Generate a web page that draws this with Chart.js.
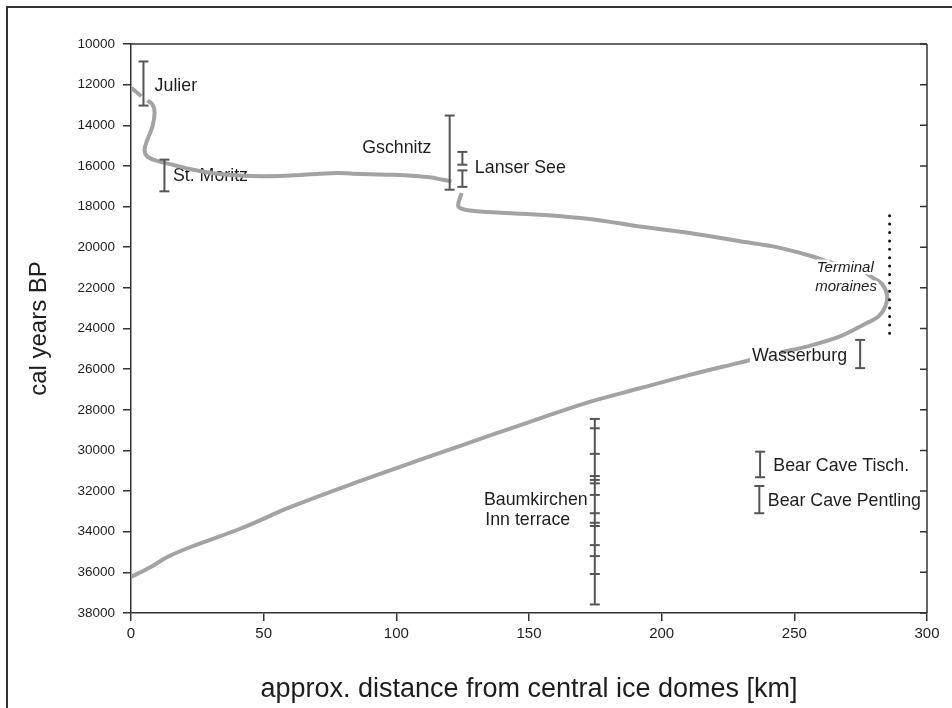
<!DOCTYPE html>
<html>
<head>
<meta charset="utf-8">
<title>Glacier advance and retreat</title>
<script src="https://cdn.jsdelivr.net/npm/chart.js@4.4.1/dist/chart.umd.min.js"></script>
<style>
    html, body { margin: 0; padding: 0; background: #fff; overflow: hidden; }
    #wrap { position: relative; width: 952px; height: 708px; }
    #frame { position: absolute; left: 6px; top: 6px; width: 960px; height: 720px;
             border-left: 2px solid #333; border-top: 2px solid #333; }
    #chart { position: absolute; left: 0; top: 0; }
</style>
</head>
<body>
<div id="wrap">
    <div id="frame"></div>
    <canvas id="chart" width="952" height="708"></canvas>
</div>
<script>
// ice front curve (km from ice domes, cal years BP)
const frontAKm  = [0.1, 3.9];
const frontAAge = [12160, 12570];

const frontBKm  = [6.2, 8.1, 8.9, 8.1, 6.2, 5.1, 6.2, 10.8, 15.7, 22.0, 33.4, 45.8, 58.5, 71.1, 77.5, 83.6, 96.4, 106.2, 112.6, 117.5, 120.8];
const frontBAge = [12780, 12980, 13370, 14060, 14700, 15200, 15540, 15790, 15940, 16150, 16400, 16500, 16480, 16390, 16350, 16380, 16430, 16480, 16560, 16680, 16760];

const frontCKm  = [124.6, 123.3, 125.2, 131.5, 154.1, 172.9, 191.8, 210.6, 229.5, 242.0, 254.7, 264.7, 268.4, 274.8, 279.8, 283.0, 284.9, 284.3, 281.7, 277.3, 267.2, 254.7, 244.6, 233.9, 229.5, 210.6, 191.8, 172.9, 156.0, 135.9, 110.7, 85.6, 60.4, 41.6, 22.7, 13.9, 7.6, 0.1];
const frontCAge = [17330, 17960, 18130, 18240, 18400, 18610, 18980, 19300, 19710, 19960, 20370, 20780, 20860, 21110, 21520, 21800, 22340, 22920, 23410, 23730, 24390, 24890, 25180, 25540, 25680, 26280, 26940, 27610, 28340, 29240, 30380, 31540, 32770, 33830, 34740, 35230, 35720, 36220];

// dated sites (age ranges)
const siteKm   = [4.7, 12.6, 120.1, 124.9, 124.9, 274.8, 237.1, 236.8];
const siteFrom = [10860, 15690, 13520, 15310, 16220, 24560, 30060, 31750];
const siteTo   = [13030, 17250, 17170, 15940, 17030, 25950, 31320, 33090];

// Baumkirchen / Inn terrace dates
const baumKm = 174.8;
const baumAges = [28450, 28910, 30170, 31260, 31450, 31620, 32190, 33090, 33560, 33720, 34660, 35200, 36080, 37580];

// terminal moraines
const moraineKm = 285.9;
const moraineAges = [18450, 24310];

const xTicks = [0, 50, 100, 150, 200, 250, 300];
const yTicks = [10000, 12000, 14000, 16000, 18000, 20000, 22000, 24000, 26000, 28000, 30000, 32000, 34000, 36000, 38000];

const labelTexts = ['Julier', 'St. Moritz', 'Gschnitz', 'Lanser See', 'Terminal', 'moraines', 'Wasserburg',
                    'Baumkirchen', 'Inn terrace', 'Bear Cave Tisch.', 'Bear Cave Pentling'];

// where each label sits (data units) and how it is drawn
const labelSpots = [
    { x: 8.9,   y: 12090, align: 'left' },
    { x: 15.8,  y: 16510, align: 'left', under: true },
    { x: 113.2, y: 15110, align: 'right' },
    { x: 129.6, y: 16100, align: 'left' },
    { x: 269.2, y: 21025, align: 'center', italic: true, halo: true },
    { x: 269.5, y: 21930, align: 'center', italic: true, halo: true },
    { x: 234.0, y: 25380, align: 'left', box: 29 },
    { x: 133.0, y: 32440, align: 'left' },
    { x: 133.5, y: 33420, align: 'left' },
    { x: 242.1, y: 30750, align: 'left' },
    { x: 240.0, y: 32490, align: 'left' }
];

const AXIS = '#333';
const TEXT = '#1e1e1e';
const BAR = '#555';
const CURVE = '#a3a3a3';

function pairs(xs, ys) {
    return xs.map((x, i) => ({ x: x, y: ys[i] }));
}

function curveSet(xs, ys) {
    return {
        data: pairs(xs, ys),
        showLine: true,
        borderColor: CURVE,
        borderWidth: 4,
        pointRadius: 0,
        tension: 0.35,
        order: 2
    };
}

function barSet(x, ages) {
    return {
        data: ages.map(a => ({ x: x, y: a })),
        showLine: true,
        borderColor: BAR,
        borderWidth: 2,
        pointStyle: 'line',
        pointRadius: 5,
        pointBorderWidth: 2,
        pointBorderColor: BAR,
        tension: 0,
        order: 1
    };
}

const datasets = [
    curveSet(frontAKm, frontAAge),
    curveSet(frontBKm, frontBAge),
    curveSet(frontCKm, frontCAge)
];
siteKm.forEach((km, i) => datasets.push(barSet(km, [siteFrom[i], siteTo[i]])));
datasets.push(barSet(baumKm, baumAges));
datasets.push({
    data: moraineAges.map(a => ({ x: moraineKm, y: a })),
    showLine: true,
    borderColor: '#111',
    borderWidth: 3,
    borderDash: [0, 8.4],
    borderCapStyle: 'round',
    pointRadius: 0,
    order: 1
});

function drawLabels(chart, under) {
    const ctx = chart.ctx;
    const xs = chart.scales.x, ys = chart.scales.y;
    ctx.save();
    ctx.textBaseline = 'middle';
    labelTexts.forEach((txt, i) => {
        const s = labelSpots[i];
        if (!!s.under !== under) return;
        const px = xs.getPixelForValue(s.x);
        const py = ys.getPixelForValue(s.y);
        ctx.font = (s.italic ? 'italic 15px' : '17.8px') + ' "Liberation Sans", Arial, sans-serif';
        ctx.textAlign = s.align;
        if (s.box) {
            // white patch where the text covers the curve
            ctx.fillStyle = '#fff';
            ctx.fillRect(px - 2, py - 10, s.box + 2, 20);
        }
        if (s.halo) {
            ctx.strokeStyle = '#fff';
            ctx.lineWidth = 5;
            ctx.strokeText(txt, px, py);
        }
        ctx.fillStyle = TEXT;
        ctx.fillText(txt, px, py);
    });
    ctx.restore();
}

const annotations = {
    id: 'annotations',
    beforeDatasetsDraw(chart) {
        drawLabels(chart, true);
    },
    afterDatasetsDraw(chart) {
        drawLabels(chart, false);
    },
    afterDraw(chart) {
        // box: top edge and right edge with inward ticks
        const { ctx, chartArea: a } = chart;
        const ys = chart.scales.y;
        ctx.save();
        ctx.strokeStyle = AXIS;
        ctx.lineWidth = 1.5;
        ctx.beginPath();
        ctx.moveTo(a.left, a.top);
        ctx.lineTo(a.right, a.top);
        ctx.stroke();
        ctx.beginPath();
        ctx.moveTo(a.right, a.top);
        ctx.lineTo(a.right, a.bottom);
        ctx.stroke();
        ctx.beginPath();
        yTicks.forEach(v => {
            const py = ys.getPixelForValue(v);
            ctx.moveTo(a.right - 7, py);
            ctx.lineTo(a.right, py);
        });
        ctx.stroke();
        ctx.restore();
    }
};

new Chart(document.getElementById('chart'), {
    type: 'scatter',
    data: { datasets: datasets },
    options: {
        responsive: false,
        animation: false,
        events: [],
        layout: { padding: { top: 44, right: 25, left: 0, bottom: 0 } },
        plugins: {
            legend: { display: false },
            tooltip: { enabled: false }
        },
        scales: {
            x: {
                type: 'linear',
                min: 0,
                max: 300,
                afterBuildTicks: scale => { scale.ticks = xTicks.map(v => ({ value: v })); },
                afterFit: scale => { scale.height = 95; },
                border: { color: AXIS, width: 1.5 },
                grid: { drawOnChartArea: false, drawTicks: true, tickLength: 8, color: AXIS, lineWidth: 1.5 },
                ticks: {
                    color: TEXT,
                    padding: 4,
                    maxRotation: 0,
                    font: { family: '"Liberation Sans Narrow", "Liberation Sans", sans-serif', size: 15 },
                    callback: v => String(v)
                },
                title: {
                    display: true,
                    text: 'approx. distance from central ice domes [km]',
                    color: TEXT,
                    padding: { top: 0, bottom: 2 },
                    font: { family: '"Liberation Sans", Arial, sans-serif', size: 27 }
                }
            },
            y: {
                type: 'linear',
                reverse: true,
                min: 10000,
                max: 38000,
                afterBuildTicks: scale => { scale.ticks = yTicks.map(v => ({ value: v })); },
                afterFit: scale => { scale.width = 131; },
                border: { color: AXIS, width: 1.5 },
                grid: { drawOnChartArea: false, drawTicks: true, tickLength: 8, color: AXIS, lineWidth: 1.5 },
                ticks: {
                    color: TEXT,
                    padding: 8,
                    font: { family: '"Liberation Sans", Arial, sans-serif', size: 13.5 },
                    callback: v => String(v)
                },
                title: {
                    display: true,
                    text: 'cal years BP',
                    color: TEXT,
                    padding: { top: 25, bottom: 0 },
                    font: { family: '"Liberation Sans", Arial, sans-serif', size: 24 }
                }
            }
        }
    },
    plugins: [annotations]
});
</script>
</body>
</html>
